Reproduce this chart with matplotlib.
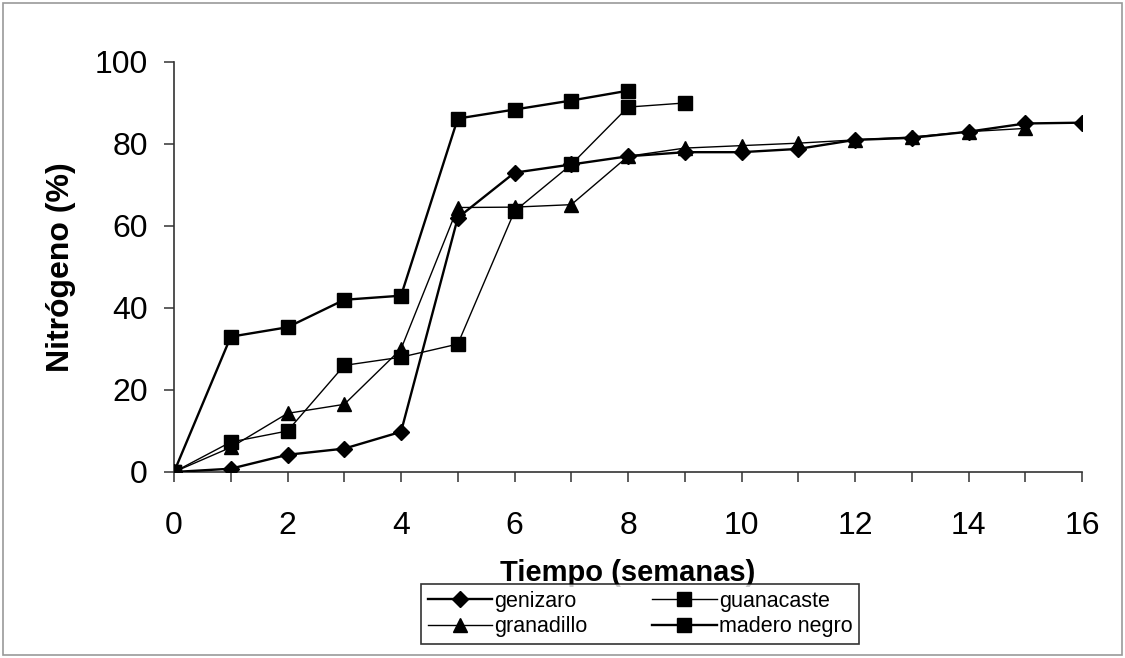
import matplotlib

matplotlib.use("Agg")
import matplotlib.pyplot as plt
from matplotlib.patches import Rectangle

# weeks and nitrogen release (%) per species
weeks_genizaro = [0, 1, 2, 3, 4, 5, 6, 7, 8, 9, 10, 11, 12, 13, 14, 15, 16]
genizaro = [0, 0.8, 4.2, 5.7, 9.8, 62, 73, 75, 77, 78, 78, 78.8, 81, 81.5, 83, 85, 85.2]

weeks_granadillo = [0, 1, 2, 3, 4, 5, 6, 7, 8, 9, 10, 11, 12, 13, 14, 15]
granadillo = [0, 6, 14.3, 16.5, 30, 64.5, 64.6, 65.2, 77, 79, 79.6, 80.2, 81, 81.7, 83, 83.8]

weeks_guanacaste = [0, 1, 2, 3, 4, 5, 6, 7, 8, 9]
guanacaste = [0, 7.3, 10, 26, 28, 31.2, 63.6, 75, 89, 90]

weeks_madero = [0, 1, 2, 3, 4, 5, 6, 7, 8]
madero_negro = [0, 33, 35.3, 42, 43, 86.2, 88.4, 90.6, 93]

FONT = "Liberation Sans"

plt.rcParams["font.family"] = [FONT, "DejaVu Sans"]

fig = plt.figure(figsize=(11.25, 6.58), dpi=100)
ax = fig.add_axes([0.1547, 0.2827, 0.8071, 0.6231])

# plotted in legend order (the legend fills column by column)
ax.plot(weeks_genizaro, genizaro, color="black", lw=1.7, marker="D",
        markersize=8, label="genizaro", zorder=4)
ax.plot(weeks_granadillo, granadillo, color="black", lw=1.0, marker="^",
        markersize=10, label="granadillo", zorder=3)
ax.plot(weeks_guanacaste, guanacaste, color="black", lw=1.0, marker="s",
        markersize=10, label="guanacaste", zorder=3)
ax.plot(weeks_madero, madero_negro, color="black", lw=1.7, marker="s",
        markersize=10, label="madero negro", zorder=3)

ax.set_xlim(0, 16)
ax.set_ylim(0, 100)
ax.set_xticks(range(0, 17))
ax.set_xticklabels([str(w) if w % 2 == 0 else "" for w in range(0, 17)])
ax.set_yticks(range(0, 101, 20))

for side in ("top", "right"):
    ax.spines[side].set_visible(False)
for side in ("left", "bottom"):
    ax.spines[side].set_linewidth(1.2)
    ax.spines[side].set_color("#333333")

ax.tick_params(axis="both", direction="out", length=7, width=1.1,
               color="#333333", labelsize=23)
ax.tick_params(axis="x", pad=21)
ax.tick_params(axis="y", pad=12)

ax.set_xlabel("Tiempo (semanas)", fontsize=21, fontweight="bold")
ax.set_ylabel("Nitrógeno (%)", fontsize=23, fontweight="bold")
ax.xaxis.set_label_coords(0.5, -0.212)
ax.yaxis.set_label_coords(-0.108, 0.5)

leg = fig.legend(loc="center", bbox_to_anchor=(0.5689, 0.0669),
                 ncol=2, fontsize=15.5, frameon=True, fancybox=False,
                 handlelength=3.0, handletextpad=0.1, columnspacing=3.0,
                 labelspacing=0.2, borderpad=0.3, borderaxespad=0)
leg.get_frame().set_edgecolor("black")
leg.get_frame().set_linewidth(1.2)

# faint border round the whole picture, as in the scan
fig.patches.append(Rectangle((0.003, 0.005), 0.994, 0.99, transform=fig.transFigure,
                             fill=False, edgecolor="#999999", lw=1.2))

fig.savefig("out.png", dpi=100)
